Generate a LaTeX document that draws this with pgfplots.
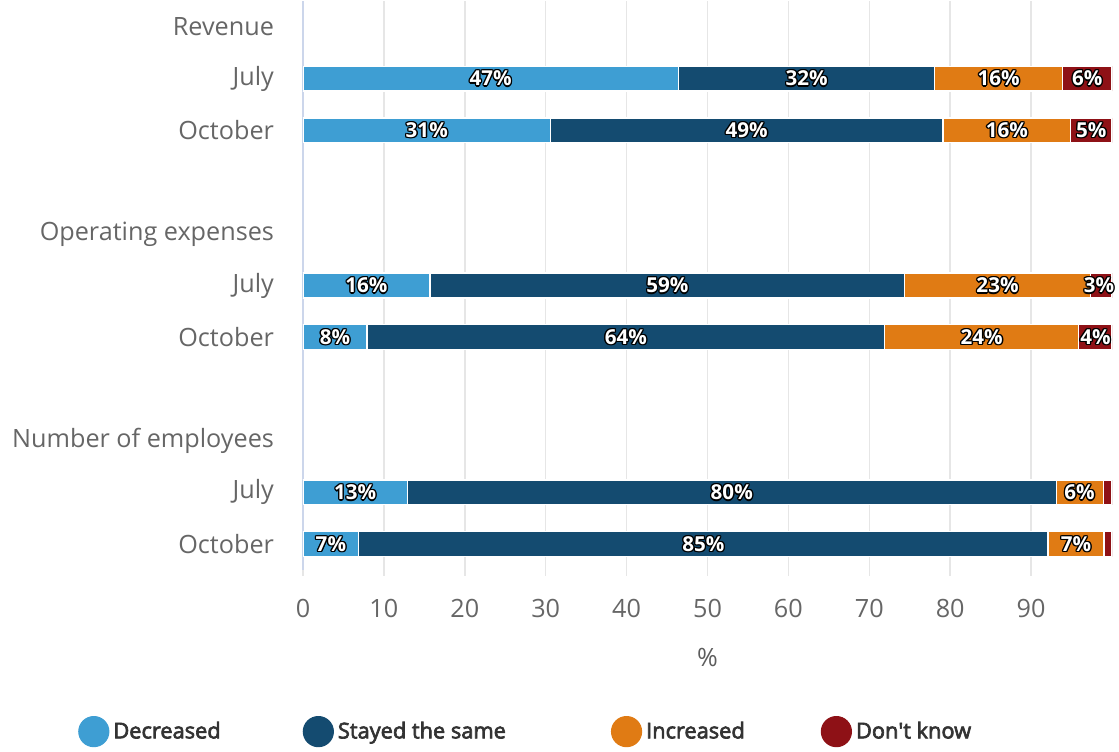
\documentclass[border=0pt]{standalone}
\usepackage{pgfplots}
\pgfplotsset{compat=1.18}
\usepackage{pgfplotstable}
\usepackage{fontspec}
\setmainfont{Open Sans}
\newfontfamily\sbfont[FakeBold=3]{Open Sans}
\usetikzlibrary{calc}

\definecolor{cdec}{HTML}{3E9ED3}
\definecolor{csame}{HTML}{144B70}
\definecolor{cinc}{HTML}{E07B14}
\definecolor{cdk}{HTML}{8E1116}
\definecolor{gridc}{HTML}{E6E6E6}
\definecolor{axc}{HTML}{CCD6EB}
\definecolor{labc}{HTML}{666666}
\definecolor{legc}{HTML}{333333}

% white data labels with a dark outline
\newcommand\outl[1]{%
  \rlap{\kern.65pt\hbox{\color{black}#1}}%
  \rlap{\kern-.65pt\hbox{\color{black}#1}}%
  \rlap{\raise.65pt\hbox{\color{black}#1}}%
  \rlap{\raise-.65pt\hbox{\color{black}#1}}%
  \rlap{\kern.5pt\raise.5pt\hbox{\color{black}#1}}%
  \rlap{\kern-.5pt\raise.5pt\hbox{\color{black}#1}}%
  \rlap{\kern.5pt\raise-.5pt\hbox{\color{black}#1}}%
  \rlap{\kern-.5pt\raise-.5pt\hbox{\color{black}#1}}%
  \hbox{\color{white}#1}}

% row: 0 Revenue, 1 July, 2 October, 4 Operating expenses, ...
\pgfplotstableread{
y  dec   same  inc   dk
1  46.4  31.7  15.8  6.1
2  30.6  48.5  15.8  5.1
5  15.7  58.7  22.9  2.7
6  7.9   64.0  24.0  4.1
9  12.9  80.2  5.8   1.1
10 6.9   85.2  6.9   1.0
}\bars

% label centres and printed values
\pgfplotstableread{
x     y   lab
23.2  1   47
62.25 1   32
86.0  1   16
96.95 1   6
15.3  2   31
54.85 2   49
87.0  2   16
97.45 2   5
7.85  5   16
45.05 5   59
85.85 5   23
98.4  5   3
3.95  6   8
39.9  6   64
83.9  6   24
97.95 6   4
6.45  9   13
53.0  9   80
96.0  9   6
3.45  10  7
49.5  10  85
95.55 10  7
}\labs

\pgfplotsset{
    seg/.style={xbar stacked, fill=#1, draw=white, line width=0.6pt,
        legend image code/.code={\fill[#1] (0pt,0pt) circle (7.5pt);}},
}

\begin{document}
\begin{tikzpicture}
\begin{axis}[
    scale only axis,
    width=404.5pt, height=284.5pt,
    xmin=0, xmax=100,
    ymin=-0.5, ymax=10.5,
    y dir=reverse,
    axis lines*=left,
    x axis line style={draw=none},
    y axis line style={draw=axc, line width=0.8pt},
    xtick={0,10,...,90},
    ytick={0,1,2,4,5,6,8,9,10},
    yticklabels={Revenue,July,October,Operating expenses,July,October,Number of employees,July,October},
    xmajorgrids,
    major grid style={gridc, line width=0.8pt},
    x tick style={gridc, line width=0.8pt},
    y tick style={draw=none},
    major tick length=3pt,
    tick align=outside,
    tick label style={font=\fontsize{12.6}{15}\selectfont, text=labc},
    yticklabel style={xshift=-8pt},
    xticklabel style={yshift=-8pt},
    /pgf/number format/assume math mode=true,
    xlabel={\%},
    xlabel style={at={(axis description cs:0.5,-0.153)}, anchor=center,
        font=\fontsize{12.6}{15}\selectfont, text=legc!80},
    legend columns=4,
    legend style={at={(axis description cs:0.2765,-0.284)}, anchor=center,
        draw=none, fill=none, font=\sbfont\fontsize{10.9}{13}\selectfont, text=legc,
        /tikz/column 2/.append style={column sep=39pt},
        /tikz/column 4/.append style={column sep=50.5pt},
        /tikz/column 6/.append style={column sep=36pt}},
    bar width=0.48,
]
\addplot[seg=cdec] table[x=dec, y=y] {\bars};
\addplot[seg=csame] table[x=same, y=y] {\bars};
\addplot[seg=cinc] table[x=inc, y=y] {\bars};
\addplot[seg=cdk] table[x=dk, y=y] {\bars};
\legend{Decreased, Stayed the same, Increased, Don\textquotesingle t know}
\addplot[stack plots=false, draw=none, mark=none,
    point meta=explicit symbolic,
    nodes near coords={\outl{\pgfplotspointmeta\%}},
    every node near coord/.style={anchor=center, inner sep=0pt,
        font=\bfseries\fontsize{10.3}{12}\selectfont}]
    table[x=x, y=y, meta=lab] {\labs};
\end{axis}
\pgfresetboundingbox
\path[use as bounding box] ($(current axis.south west)+(-151.5pt,-90.5pt)$)
    rectangle ($(current axis.north east)+(3.5pt,0.5pt)$);
\end{tikzpicture}
\end{document}
